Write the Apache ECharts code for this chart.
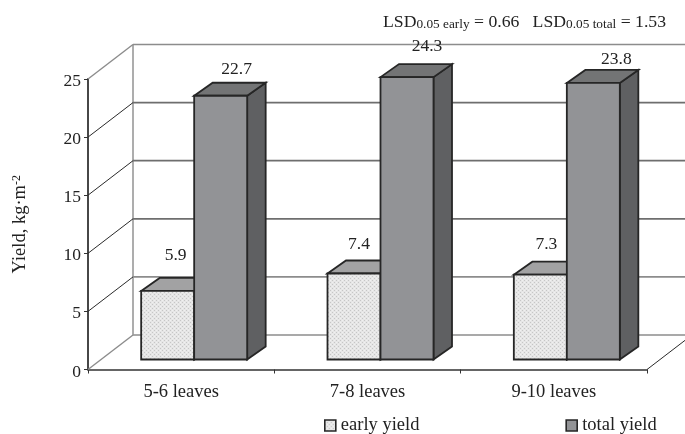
<!DOCTYPE html>
<html><head><meta charset="utf-8">
<style>html,body{margin:0;padding:0;background:#fff}#c{width:685px;height:434px}</style>
<script src="https://cdn.jsdelivr.net/npm/echarts@6/dist/echarts.min.js"></script>
</head><body><div id="c"></div>
<script>
const categories = ['5-6 leaves', '7-8 leaves', '9-10 leaves'];
const earlyYield = [5.9, 7.4, 7.3];
const totalYield = [22.7, 24.3, 23.8];
const yTicks = [0, 5, 10, 15, 20, 25];

// layout constants (3-D projection, px)
const WALL = [45, -34.5], FRONT = [13, -10], DEPTH = [18.5, -13], BAR_W = 53;
const FONT = '"Liberation Serif","Times New Roman",serif';
// hand-placed label nudges in the original chart [dx, dy] from back-top edge
const earlyNudge = [[-8, -23], [-11, -16], [-10, -17]];
const totalNudge = [[0, -13], [4, -18], [7, -11]];

const pc = document.createElement('canvas'); pc.width = pc.height = 4;
const g = pc.getContext('2d');
g.fillStyle = '#e6e6e6'; g.fillRect(0, 0, 4, 4);
g.fillStyle = '#c6c6c6'; g.fillRect(0, 0, 1, 1); g.fillRect(2, 2, 1, 1);
g.fillStyle = '#f0f0f0'; g.fillRect(2, 0, 1, 1); g.fillRect(0, 2, 1, 1);
const pattern = { image: pc, repeat: 'repeat' };

const el = document.getElementById('c');
const chart = echarts.init(el, null, { renderer: 'canvas', width: 685, height: 434 });

function line(a, b, stroke, w) {
  return { type: 'line', shape: { x1: a[0], y1: a[1], x2: b[0], y2: b[1] }, style: { stroke, lineWidth: w } };
}
function poly(points, fill) {
  return { type: 'polygon', shape: { points }, style: { fill, stroke: '#262626', lineWidth: 1.8, lineJoin: 'miter' } };
}
function makeBar(api, cat, val, slot, front, top, side, label, nudge) {
  const base = api.coord([cat, 0]), tip = api.coord([cat, val]);
  const x0 = base[0] + FRONT[0] + (slot === 0 ? -BAR_W : 0), x1 = x0 + BAR_W;
  const yb = base[1] + FRONT[1], yt = tip[1] + FRONT[1];
  const [dx, dy] = DEPTH;
  return {
    type: 'group',
    children: [
      poly([[x1, yb], [x1 + dx, yb + dy], [x1 + dx, yt + dy], [x1, yt]], side),
      poly([[x0, yt], [x0 + dx, yt + dy], [x1 + dx, yt + dy], [x1, yt]], top),
      poly([[x0, yb], [x1, yb], [x1, yt], [x0, yt]], front),
      { type: 'text', style: { text: label, x: (x0 + x1) / 2 + 16 + nudge[0], y: yt + dy + nudge[1],
          font: '17.5px ' + FONT, fill: '#222', align: 'center', verticalAlign: 'middle' }, z2: 50 }
    ]
  };
}

chart.setOption({
  animation: false,
  backgroundColor: '#fff',
  title: {
    left: 383, top: 13, padding: 0,
    text: '{a|LSD}{s|0.05 early}{a| = 0.66   LSD}{s|0.05 total}{a| = 1.53}',
    textStyle: { fontWeight: 'normal', rich: {
      a: { fontFamily: FONT, fontSize: 17.7, color: '#222' },
      s: { fontFamily: FONT, fontSize: 13.3, color: '#222', padding: [5, 0, 0, 0] }
    } }
  },
  legend: {
    left: 324, top: 416, itemGap: 146, itemWidth: 11, itemHeight: 11, padding: 0,
    textStyle: { fontFamily: FONT, fontSize: 18.5, color: '#222', padding: [0, 0, 0, 0] },
    data: [
      { name: 'early yield', icon: 'rect', itemStyle: { color: pattern, borderColor: '#262626', borderWidth: 1.6 } },
      { name: 'total yield', icon: 'rect', itemStyle: { color: '#929396', borderColor: '#262626', borderWidth: 1.6 } }
    ]
  },
  grid: { left: 88, top: 79, width: 559, height: 290.5 },
  xAxis: {
    type: 'category', data: categories, boundaryGap: true,
    axisLine: { lineStyle: { color: '#333', width: 1.6 } },
    axisTick: { show: true, length: 4, alignWithLabel: false, lineStyle: { color: '#333', width: 1 } },
    axisLabel: { fontFamily: FONT, fontSize: 18.5, color: '#222', margin: 13 },
    splitLine: { show: false }
  },
  yAxis: {
    type: 'value', min: 0, max: 25, interval: 5,
    name: '{t|Yield, kg·m}{u|-2}', nameLocation: 'middle', nameRotate: 90, nameGap: 58,
    nameTextStyle: { rich: {
      t: { fontFamily: FONT, fontSize: 18.5, color: '#222' },
      u: { fontFamily: FONT, fontSize: 12, color: '#222', padding: [0, 0, 7, 0] }
    } },
    axisLine: { show: true, lineStyle: { color: '#333', width: 1.8 } },
    axisTick: { show: true, length: 4, lineStyle: { color: '#333', width: 1 } },
    axisLabel: { margin: 7, formatter: '{n|{value}}', rich: {
      n: { fontFamily: FONT, fontSize: 17.5, color: '#222', padding: [5, 0, 0, 0] }
    } },
    splitLine: { show: false }
  },
  series: [
    {
      type: 'custom', name: 'walls', silent: true, z: 1, legendHoverLink: false,
      data: yTicks.map(v => [v]),
      encode: { y: 0 },
      renderItem(params, api) {
        const v = api.value(0);
        const a = api.coord([0, v]);
        const cs = params.coordSys;
        const p = [cs.x, a[1]], q = [cs.x + WALL[0], a[1] + WALL[1]], r = [cs.x + cs.width + WALL[0], a[1] + WALL[1]];
        const kids = [];
        const edge = v === 0 || v === 25;
        kids.push(line(p, q, edge ? '#8c8c8c' : '#2a2a2a', edge ? 1.4 : 1));
        kids.push(line(q, r, v > 5 && v < 25 ? '#6e6e6e' : '#8c8c8c', 1.7));
        if (v === 0) {
          kids.push(line([cs.x + cs.width, a[1]], r, '#2a2a2a', 1));
          kids.push(line(q, [q[0], cs.y + WALL[1]], '#999', 1.6));
        }
        return { type: 'group', children: kids };
      }
    },
    {
      type: 'custom', name: 'early yield', z: 3,
      itemStyle: { color: pattern },
      data: earlyYield.map((v, i) => [i, v]),
      encode: { x: 0, y: 1 },
      renderItem(params, api) {
        const i = api.value(0), v = api.value(1);
        return makeBar(api, i, v, 0, pattern, '#a2a2a3', '#8a8a8a', v.toFixed(1), earlyNudge[i]);
      }
    },
    {
      type: 'custom', name: 'total yield', z: 4,
      itemStyle: { color: '#929396' },
      data: totalYield.map((v, i) => [i, v]),
      encode: { x: 0, y: 1 },
      renderItem(params, api) {
        const i = api.value(0), v = api.value(1);
        return makeBar(api, i, v, 1, '#929396', '#737475', '#5f6062', v.toFixed(1), totalNudge[i]);
      }
    }
  ]
});
</script></body></html>
